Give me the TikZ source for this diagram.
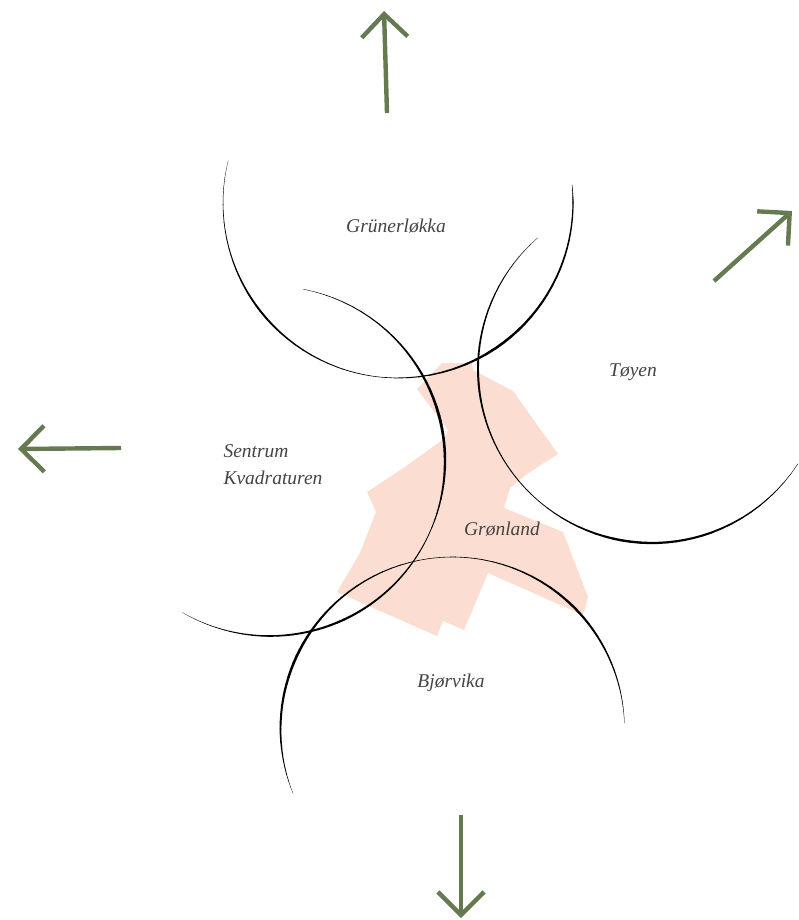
\documentclass[tikz,border=0pt]{standalone}
\usepackage{fontspec}
\setmainfont{Liberation Serif}
\usetikzlibrary{arrows.meta}

\definecolor{areafill}{HTML}{FBDDD1}
\definecolor{arrowgreen}{HTML}{667A52}
\definecolor{labelgray}{HTML}{444444}

\tikzset{
	area/.style={fill=areafill, draw=none},
	penline/.style={draw=black, line cap=round},
	place/.style={font=\itshape\fontsize{19.5}{27}\selectfont, text=labelgray, inner sep=0pt},
	outarrow/.style={draw=arrowgreen, line width=4.4pt, -{Straight Barb[length=23pt, width=46pt]}}
}

% circle arc whose width changes: centre x, centre y, radius, angle/width/angle/width
\newcommand{\penarc}[4]{
	\foreach \ao/\wo/\an/\wn in {#4}{
		\foreach \i in {1,...,10}{
			\pgfmathsetmacro\aone{\ao+(\an-\ao)*(\i-1)/10}
			\pgfmathsetmacro\atwo{\ao+(\an-\ao)*\i/10}
			\pgfmathsetmacro\wmid{\wo+(\wn-\wo)*(\i-0.5)/10}
			\draw[penline, line width=\wmid pt] ({#1+#3*cos(\aone)},{#2+#3*sin(\aone)}) -- ({#1+#3*cos(\atwo)},{#2+#3*sin(\atwo)});
		}
	}
}

\begin{document}
\begin{tikzpicture}[x=1pt, y=-1pt]
	\useasboundingbox (0,0) rectangle (798,920);

	% Gronland area
	\fill[area] (442,363) -- (472,363) -- (473,370) -- (513,391) -- (558,454) -- (527,474)
		-- (510,488) -- (504,508) -- (563,532) -- (588,597) -- (583,615) -- (488,573)
		-- (464,630) -- (443,621) -- (437,636) -- (337,592) -- (360,553) -- (376,512)
		-- (367,492) -- (405,467) -- (445,438) -- (448,430) -- (417,389) -- cycle;

	% the four arcs
	\penarc{398}{203}{175}{194/0.2/165/0.9, 165/0.9/142/2, 142/2/110/0.8, 110/0.8/95/0.5, 95/0.5/56/2.6, 56/2.6/25/1.8, 25/1.8/0/1.2, 0/1.2/-6/0.3}
	\penarc{652}{369}{174}{229/0.2/200/1.4, 200/1.4/175/2, 175/2/150/1, 150/1/130/0.7, 130/0.7/100/2.4, 100/2.4/70/2, 70/2/33/0.3}
	\penarc{270}{461}{175}{-79/0.3/-45/1.4, -45/1.4/-15/2.8, -15/2.8/0/2.4, 0/2.4/25/0.7, 25/0.7/45/1.6, 45/1.6/65/2.2, 65/2.2/90/1.6, 90/1.6/105/0.8, 105/0.8/120/0.2}
	\penarc{452.5}{729}{172}{158/0.2/180/1.8, 180/1.8/205/2.6, 205/2.6/230/1.6, 230/1.6/262/0.5, 262/0.5/280/0.7, 280/0.7/315/2.4, 315/2.4/340/1.2, 340/1.2/358/0.2}

	\node[place]             (grunerlokka) at (396,226) {Grünerløkka};
	\node[place]             (toyen)       at (633,372) {Tøyen};
	\node[place, align=left] (sentrum)     at (273,465) {Sentrum\\Kvadraturen};
	\node[place]             (gronland)    at (502,529) {Grønland};
	\node[place]             (bjorvika)    at (451,683) {Bjørvika};

	% arrows pointing away
	\coordinate (northstart) at (387,113);
	\coordinate (northtip)   at (384,11);
	\coordinate (eaststart)  at (714,281);
	\coordinate (easttip)    at (792,211);
	\coordinate (weststart)  at (121,448);
	\coordinate (westtip)    at (18,449);
	\coordinate (southstart) at (461,815);
	\coordinate (southtip)   at (461,918);

	\draw[outarrow] (northstart) -- (northtip);
	\draw[outarrow] (eaststart)  -- (easttip);
	\draw[outarrow] (weststart)  -- (westtip);
	\draw[outarrow] (southstart) -- (southtip);
\end{tikzpicture}
\end{document}
